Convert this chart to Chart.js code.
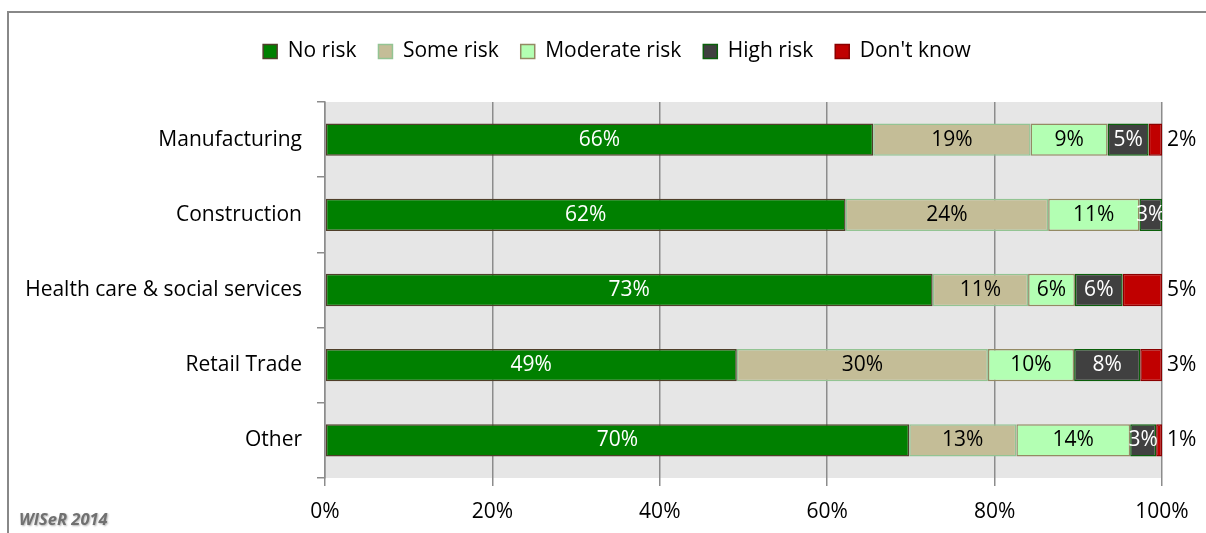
<!DOCTYPE html>
<html>
<head>
<meta charset="utf-8">
<script src="https://cdn.jsdelivr.net/npm/chart.js@4/dist/chart.umd.min.js"></script>
<style>
  body { margin: 0; background: #fff; }
  #wrap { position: relative; width: 1206px; height: 533px; }
</style>
</head>
<body>
<div id="wrap"><canvas id="risk-chart"></canvas></div>
<script>
var sectors = ['Manufacturing', 'Construction', 'Health care & social services', 'Retail Trade', 'Other'];

var noRisk       = [65.5, 62.2, 72.6, 49.2, 69.8];
var someRisk     = [18.8, 24.2, 11.4, 30.0, 12.8];
var moderateRisk = [ 9.2, 10.9,  5.6, 10.3, 13.6];
var highRisk     = [ 4.9,  2.7,  5.7,  7.9,  3.1];
var dontKnow     = [ 1.6,  0.0,  4.7,  2.6,  0.7];

var xTicks = [0, 20, 40, 60, 80, 100];

var FONT = '"Open Sans", sans-serif';
var GRID = '#8c8c8c';

// white text on the dark segments, black on the pale ones
var labelColours = ['#ffffff', '#000000', '#000000', '#ffffff', '#000000'];

var frameAndBackground = {
  id: 'frameAndBackground',
  beforeInit: function(chart) {
    // taller legend box so the plot starts lower
    var legend = chart.legend;
    var fit = legend.fit;
    legend.fit = function() {
      fit.call(this);
      this.height = 83;
    };
  },
  afterLayout: function(chart) {
    chart.legend.left += 36;
    chart.legend.right += 36;
  },
  beforeDraw: function(chart) {
    var ctx = chart.ctx, a = chart.chartArea;
    ctx.save();
    ctx.strokeStyle = '#888888';
    ctx.lineWidth = 2;
    ctx.beginPath();
    ctx.moveTo(8, 540);
    ctx.lineTo(8, 12);
    ctx.lineTo(1210, 12);
    ctx.stroke();
    ctx.fillStyle = '#e6e6e6';
    ctx.fillRect(a.left, a.top, a.right - a.left, a.bottom - a.top);
    ctx.restore();
  },
  afterDraw: function(chart) {
    var ctx = chart.ctx;
    ctx.save();
    ctx.font = 'italic bold 16.5px ' + FONT;
    ctx.fillStyle = '#707070';
    ctx.shadowColor = 'rgba(0,0,0,0.3)';
    ctx.shadowBlur = 2;
    ctx.shadowOffsetX = 1;
    ctx.shadowOffsetY = 1;
    ctx.textBaseline = 'middle';
    ctx.fillText('WISeR 2014', 19, 520);
    ctx.restore();
  }
};

var valueLabels = {
  id: 'valueLabels',
  afterDatasetsDraw: function(chart) {
    var ctx = chart.ctx, a = chart.chartArea;
    var last = chart.data.datasets.length - 1;
    ctx.save();
    ctx.font = '21px ' + FONT;
    ctx.textBaseline = 'middle';
    chart.data.datasets.forEach(function(ds, i) {
      var meta = chart.getDatasetMeta(i);
      meta.data.forEach(function(bar, j) {
        var v = ds.data[j];
        if (!v) return;
        var text = Math.round(v) + '%';
        if (i === last) {
          ctx.fillStyle = '#000000';
          ctx.textAlign = 'left';
          ctx.fillText(text, a.right + 5, bar.y);
        } else {
          ctx.save();
          ctx.beginPath();
          ctx.rect(a.left, a.top, a.right - a.left, a.bottom - a.top);
          ctx.clip();
          ctx.fillStyle = labelColours[i];
          ctx.textAlign = 'center';
          ctx.fillText(text, (bar.base + bar.x) / 2, bar.y);
          ctx.restore();
        }
      });
    });
    ctx.restore();
  }
};

function series(label, data, fill, edge) {
  return {
    label: label,
    data: data,
    backgroundColor: fill,
    borderColor: edge,
    borderWidth: 1.5,
    borderSkipped: false,
    categoryPercentage: 1,
    barPercentage: 0.43
  };
}

new Chart(document.getElementById('risk-chart'), {
  type: 'bar',
  data: {
    labels: sectors,
    datasets: [
      series('No risk', noRisk, '#008000', '#4f3f2a'),
      series('Some risk', someRisk, '#c4bd97', '#93c493'),
      series('Moderate risk', moderateRisk, '#b3ffb3', '#948a64'),
      series('High risk', highRisk, '#404040', '#0b5f0b'),
      series("Don't know", dontKnow, '#c00000', '#8b0000')
    ]
  },
  options: {
    indexAxis: 'y',
    responsive: true,
    maintainAspectRatio: false,
    animation: false,
    layout: { padding: { top: 19, right: 44, left: 0, bottom: 0 } },
    plugins: {
      tooltip: { enabled: false },
      legend: {
        position: 'top',
        labels: {
          font: { family: FONT, size: 21 },
          color: '#000000',
          boxWidth: 14,
          boxHeight: 14,
          padding: 22
        }
      }
    },
    scales: {
      x: {
        stacked: true,
        min: 0,
        max: 100,
        afterBuildTicks: function(scale) {
          scale.ticks = xTicks.map(function(v) { return { value: v }; });
        },
        afterFit: function(scale) { scale.height = 55; },
        border: { display: false },
        grid: { color: GRID, lineWidth: 1.5, tickLength: 8, tickColor: GRID },
        ticks: {
          padding: 13,
          color: '#000000',
          font: { family: FONT, size: 21 },
          callback: function(v) { return v + '%'; }
        }
      },
      y: {
        stacked: true,
        afterFit: function(scale) { scale.width = 325; },
        border: { display: true, color: GRID, width: 1.5 },
        grid: { drawOnChartArea: false, offset: true, tickLength: 8, color: GRID, lineWidth: 1.5 },
        ticks: {
          padding: 15,
          color: '#000000',
          font: { family: FONT, size: 21 }
        }
      }
    }
  },
  plugins: [frameAndBackground, valueLabels]
});
</script>
</body>
</html>
